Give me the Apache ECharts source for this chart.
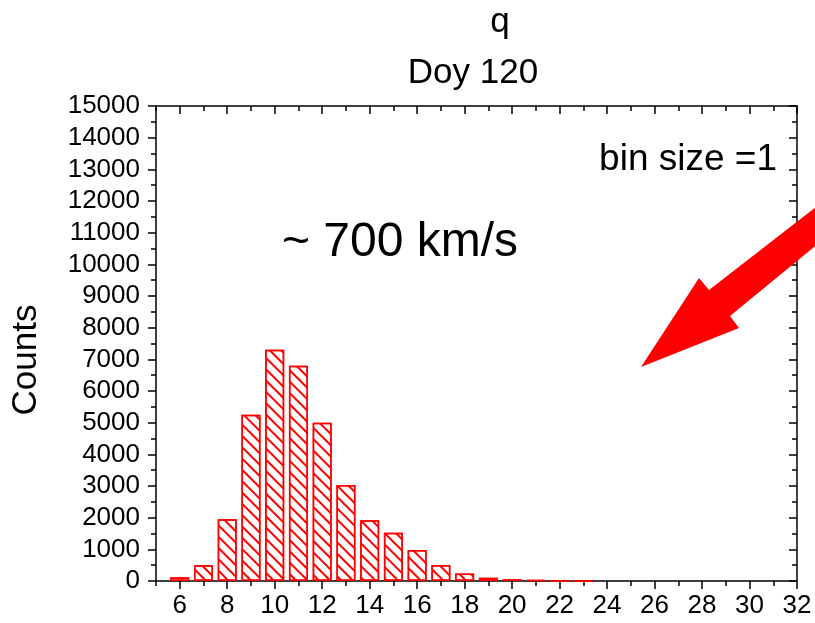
<!DOCTYPE html>
<html>
<head>
<meta charset="utf-8">
<script src="https://cdn.jsdelivr.net/npm/echarts@6/dist/echarts.min.js"></script>
<style>
html,body{margin:0;padding:0;background:#fff;}
#main{width:815px;height:623px;}
</style>
</head>
<body>
<div id="main"></div>
<script>
// Data
var bins   = [6, 7, 8, 9, 10, 11, 12, 13, 14, 15, 16, 17, 18, 19, 20, 21, 22, 23];
var counts = [120, 500, 1950, 5250, 7300, 6800, 5000, 3030, 1920, 1520, 980, 505, 240, 105, 55, 30, 12, 4];
var majorXTicks = [6, 8, 10, 12, 14, 16, 18, 20, 22, 24, 26, 28, 30, 32];
var minorXTicks = [5, 7, 9, 11, 13, 15, 17, 19, 21, 23, 25, 27, 29, 31];
var titleLine1 = 'q';
var titleLine2 = 'Doy 120';
var speedNote = '~ 700 km/s';
var binNote = 'bin size =1';
var yName = 'Counts';

var FONT = "'Liberation Sans', Arial, sans-serif";
var lineStyle = {color: '#000', width: 1.5};

var chart = echarts.init(document.getElementById('main'), null, {renderer: 'canvas'});

function xAx(pos, ticks, len, inside, showLine, showLabel) {
  return {
    type: 'value', position: pos, min: 5, max: 32,
    axisLine: {show: showLine, onZero: false, lineStyle: lineStyle},
    axisTick: {show: true, customValues: ticks, length: len, inside: inside, lineStyle: lineStyle},
    axisLabel: {show: showLabel, customValues: ticks, fontSize: 26, fontFamily: FONT, color: '#000', margin: 12,
                formatter: function (v) { return String(v); }},
    splitLine: {show: false}
  };
}
function yAx(pos, inside, showLabel) {
  return {
    type: 'value', position: pos, min: 0, max: 15000, interval: 1000,
    axisLine: {show: true, onZero: false, lineStyle: lineStyle},
    axisTick: {show: true, length: 8, inside: inside, lineStyle: lineStyle},
    minorTick: {show: true, splitNumber: 2, length: 5, lineStyle: lineStyle},
    axisLabel: {show: showLabel, fontSize: 26, fontFamily: FONT, color: '#000', margin: 16,
                formatter: function (v) { return String(v); }},
    splitLine: {show: false}
  };
}

var data = bins.map(function (b, i) { return [b, counts[i]]; });

chart.setOption({
  animation: false,
  backgroundColor: '#fff',
  grid: {left: 156, right: 18, top: 106, bottom: 42, containLabel: false},
  xAxis: [
    xAx('bottom', majorXTicks, 8, false, true, true),
    xAx('bottom', minorXTicks, 5, false, false, false),
    xAx('top', majorXTicks, 8, true, true, false),
    xAx('top', minorXTicks, 5, true, false, false)
  ],
  yAxis: [
    yAx('left', false, true),
    yAx('right', true, false)
  ],
  series: [{
    type: 'bar',
    xAxisIndex: 0, yAxisIndex: 0,
    data: data,
    barWidth: 19,
    itemStyle: {
      color: '#fff',
      borderColor: '#ff0000',
      borderWidth: 1.5,
      decal: {
        symbol: 'rect',
        symbolSize: 1,
        color: '#ff0000',
        backgroundColor: 'rgba(0,0,0,0)',
        dashArrayX: [1, 0],
        dashArrayY: [1.2, 5.5],
        rotation: Math.PI / 4
      }
    }
  }],
  graphic: [
    {type: 'text', x: 500, y: 22, style: {text: titleLine1, font: '35px ' + FONT, fill: '#000', textAlign: 'center', textVerticalAlign: 'middle'}},
    {type: 'text', x: 473, y: 73, style: {text: titleLine2, font: '35px ' + FONT, fill: '#000', textAlign: 'center', textVerticalAlign: 'middle'}},
    {type: 'text', x: 282, y: 243, style: {text: speedNote, font: '48px ' + FONT, fill: '#000', textAlign: 'left', textVerticalAlign: 'middle'}},
    {type: 'text', x: 777, y: 160, style: {text: binNote, font: '37px ' + FONT, fill: '#000', textAlign: 'right', textVerticalAlign: 'middle'}},
    {type: 'text', x: 26, y: 360, rotation: Math.PI / 2, style: {text: yName, font: '35px ' + FONT, fill: '#000', textAlign: 'center', textVerticalAlign: 'middle'}},
    {type: 'polygon', shape: {points: [[641, 367], [699, 278], [709, 290], [830, 196], [830, 234], [730, 316], [739, 328]]}, style: {fill: '#ff0000'}, z: 10}
  ]
});
</script>
</body>
</html>
